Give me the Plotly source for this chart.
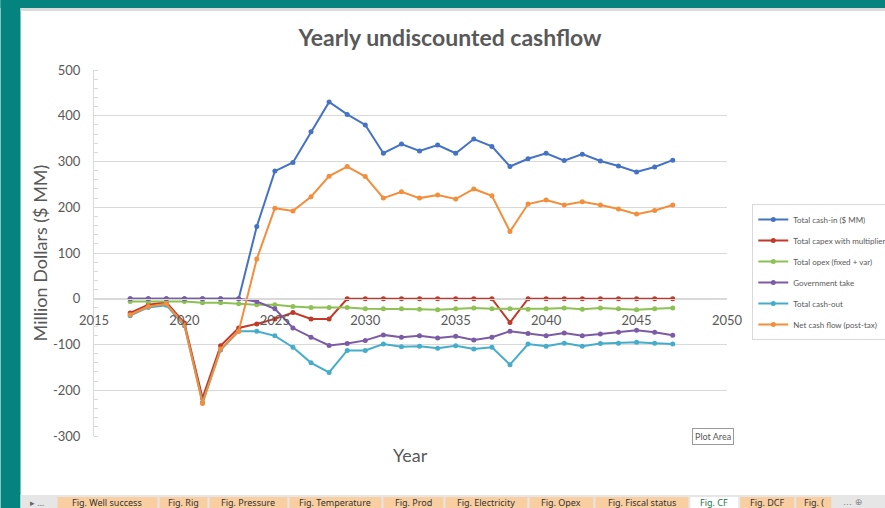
import plotly.graph_objects as go

years = list(range(2017, 2048))
cash_in = [0, 0, 0, 0, 0, 0, 0, 158, 279, 298, 365, 430, 403, 380, 318,
           338, 323, 336, 318, 349, 333, 289, 306, 318, 302, 316, 301, 290, 277, 288, 303]
capex = [-31, -13, -8, -53, -217, -103, -64, -55, -44, -30, -44, -44, 0, 0, 0,
         0, 0, 0, 0, 0, 0, -52, 0, 0, 0, 0, 0, 0, 0, 0, 0]
opex = [-6, -6, -6, -6, -9, -9, -11, -13, -13, -17, -19, -19, -19, -22, -22,
        -22, -23, -24, -22, -20, -22, -22, -23, -22, -20, -23, -20, -22, -24, -22, -20]
gov = [0, 0, 0, 0, 0, 0, 0, -6, -22, -64, -84, -102, -98, -91, -79,
       -84, -81, -86, -82, -90, -84, -71, -76, -81, -75, -81, -77, -73, -69, -73, -80]
cash_out = [-37, -19, -14, -59, -226, -112, -71, -71, -81, -106, -140, -161, -113, -113, -99,
            -105, -104, -108, -103, -110, -106, -144, -99, -104, -97, -104, -98, -97, -95, -97, -99]
net = [-35, -17, -11, -57, -229, -110, -71, 87, 198, 192, 223, 268, 289, 267, 220,
       234, 220, 227, 218, 240, 225, 147, 207, 216, 205, 212, 205, 196, 185, 193, 205]

series_names = ["Total cash-in ($ MM)", "Total capex with multiplier", "Total opex (fixed + var)",
                "Government take", "Total cash-out", "Net cash flow (post-tax)"]
series_values = [cash_in, capex, opex, gov, cash_out, net]
series_colors = ["#4472C4", "#C0392B", "#8DC153", "#7B5BA6", "#45ADCB", "#F28E3C"]

y_ticks = [-300, -200, -100, 0, 100, 200, 300, 400, 500]
y_tick_text = ["-300", "-200", "-100", "0", "100", "200", "300", "400", "500"]

tab_labels = ["Fig. Well success", "Fig. Rig", "Fig. Pressure", "Fig. Temperature", "Fig. Prod",
              "Fig. Electricity", "Fig. Opex", "Fig. Fiscal status", "Fig. CF", "Fig. DCF", "Fig. ("]

W, H = 885, 508
L, R, T, B = 93.5, 726.7, 70, 436
FONT = "Lato"
GREY = "#595959"


def px(x):
    return (x - L) / (R - L)


def py(y):
    return (B - y) / (B - T)


fig = go.Figure()
for name, vals, col in zip(series_names, series_values, series_colors):
    fig.add_trace(go.Scatter(x=years, y=vals, name=name, mode="lines+markers",
                             line=dict(color=col, width=2),
                             marker=dict(color=col, size=5), legendgroup=name))

shapes = []
# teal frame
shapes.append(dict(type="rect", xref="paper", yref="paper", x0=px(0), x1=px(20), y0=py(H), y1=py(0),
                   fillcolor="#05837F", line=dict(width=0), layer="below"))
shapes.append(dict(type="rect", xref="paper", yref="paper", x0=px(0), x1=px(W), y0=py(8), y1=py(0),
                   fillcolor="#05837F", line=dict(width=0), layer="below"))
shapes.append(dict(type="rect", xref="paper", yref="paper", x0=px(20), x1=px(W), y0=py(11), y1=py(8),
                   fillcolor="#DADADA", line=dict(width=0), layer="below"))
# tab bar
shapes.append(dict(type="rect", xref="paper", yref="paper", x0=px(20), x1=px(W), y0=py(H), y1=py(495),
                   fillcolor="#E6E6E6", line=dict(width=0), layer="below"))

tab_edges = [56, 158, 208, 288, 382, 444, 528, 594, 689, 739, 795, 832]
annotations = []
for i, lab in enumerate(tab_labels):
    x0, x1 = tab_edges[i], tab_edges[i + 1]
    active = lab == "Fig. CF"
    shapes.append(dict(type="rect", xref="paper", yref="paper", x0=px(x0 + 1), x1=px(x1 - 1),
                       y0=py(H), y1=py(497),
                       fillcolor="#FFFFFF" if active else "#F9CFA2",
                       line=dict(width=0), layer="below"))
    annotations.append(dict(xref="paper", yref="paper", x=px((x0 + x1) / 2), y=py(502),
                            text=lab, showarrow=False, xanchor="center", yanchor="middle",
                            font=dict(family="Noto Sans", size=9,
                                      color="#217346" if active else "#333333")))
annotations.append(dict(xref="paper", yref="paper", x=px(36), y=py(502), text="▸ …",
                        showarrow=False, xanchor="center", yanchor="middle",
                        font=dict(family="Noto Sans", size=9, color="#666666")))
annotations.append(dict(xref="paper", yref="paper", x=px(852), y=py(502), text="… ⊕",
                        showarrow=False, xanchor="center", yanchor="middle",
                        font=dict(family="DejaVu Sans", size=9, color="#888888")))

annotations.append(dict(xref="paper", yref="paper", x=px(410), y=py(455), text="Year",
                        showarrow=False, xanchor="center", yanchor="middle",
                        font=dict(family=FONT, size=18, color=GREY)))
annotations.append(dict(xref="paper", yref="paper", x=px(713), y=py(437), text="Plot Area",
                        showarrow=False, xanchor="center", yanchor="middle",
                        bgcolor="#FFFFFF", bordercolor="#9A9A9A", borderwidth=1,
                        borderpad=2, font=dict(family=FONT, size=9, color=GREY)))

fig.update_layout(
    width=W, height=H,
    margin=dict(l=L, r=W - R, t=T, b=H - B, autoexpand=False),
    paper_bgcolor="#FFFFFF", plot_bgcolor="#FFFFFF",
    title=dict(text="<b>Yearly undiscounted cashflow</b>", x=450 / W, xref="container",
               y=1 - 38 / H, yref="container", xanchor="center", yanchor="middle",
               font=dict(family=FONT, size=23, color=GREY)),
    xaxis=dict(range=[2015, 2050], dtick=5, tick0=2015, showgrid=False, zeroline=False,
               anchor="free", position=300 / 800, showline=True, linecolor="#D9D9D9",
               ticks="outside", ticklen=10, tickcolor="rgba(0,0,0,0)",
               tickfont=dict(family=FONT, size=13, color=GREY)),
    yaxis=dict(range=[-300, 500], tickvals=y_ticks, ticktext=y_tick_text,
               showgrid=True, gridcolor="#D9D9D9", gridwidth=1,
               zeroline=False, showline=True, linecolor="#D9D9D9",
               ticks="outside", ticklen=10, tickcolor="rgba(0,0,0,0)",
               minor=dict(ticks="inside", dtick=20, ticklen=4, tickcolor="#D9D9D9", showgrid=False),
               tickfont=dict(family=FONT, size=13, color=GREY),
               title=dict(text="Million Dollars ($ MM)", standoff=0,
                          font=dict(family=FONT, size=18, color=GREY))),
    legend=dict(x=px(752), y=py(204), xanchor="left", yanchor="top",
                bgcolor="#FFFFFF", bordercolor="#D9D9D9", borderwidth=1,
                font=dict(family=FONT, size=8, color=GREY), itemwidth=30,
                tracegroupgap=2),
    shapes=shapes,
    annotations=annotations,
    showlegend=True,
)

fig.write_html("out.html")
